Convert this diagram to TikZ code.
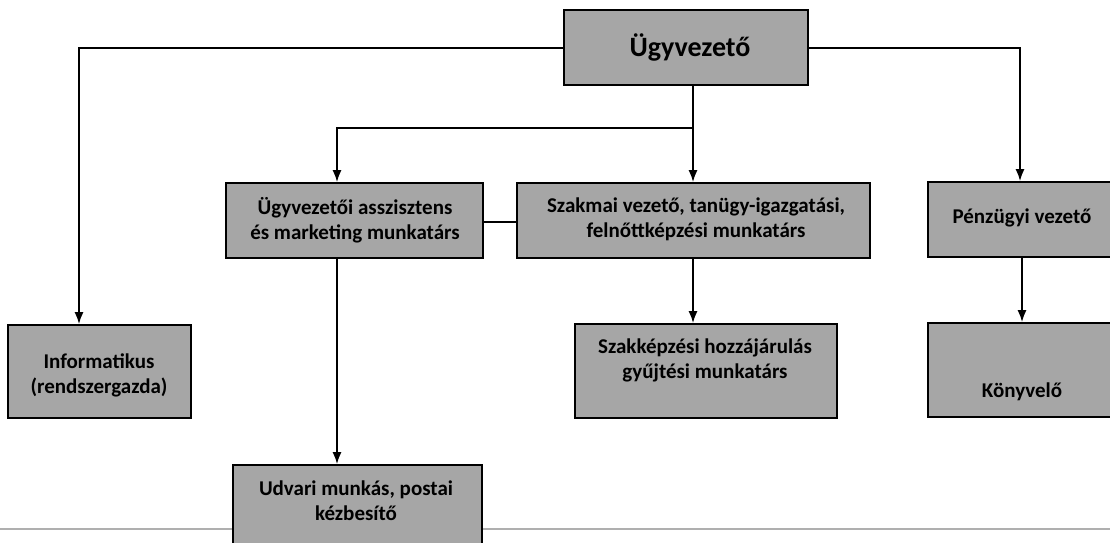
\documentclass[tikz,border=0pt]{standalone}
\usepackage{fontspec}
\setmainfont{Carlito}
\usetikzlibrary{arrows.meta}
\definecolor{boxgray}{RGB}{166,166,166}
\definecolor{scanline}{RGB}{175,175,175}
\tikzset{
  orgbox/.style={draw=black, line width=1.8pt, fill=boxgray, rectangle, inner sep=0pt},
  lbl/.style={font=\bfseries\fontsize{21}{25}\selectfont, align=center, inner sep=0pt, text=black},
  conn/.style={draw=black, line width=1.6pt},
  arr/.style={conn, -{Latex[length=12pt,width=9pt]}},
}
\begin{document}
\begin{tikzpicture}[x=1pt,y=-1pt]
\useasboundingbox (0,0) rectangle (1110,542);
% scan edge line
\coordinate (sl) at (0,529);
\coordinate (sr) at (1110,529);
\draw[scanline, line width=1.4pt] (sl) -- (sr);

% boxes
\node[orgbox, minimum width=244pt, minimum height=75pt] (ugy) at (686,47.5) {};
\node[orgbox, minimum width=257pt, minimum height=75pt] (asz) at (354.5,220.5) {};
\node[orgbox, minimum width=353pt, minimum height=75pt] (szak) at (693.5,220.5) {};
\node[orgbox, minimum width=188pt, minimum height=75pt] (penz) at (1022,219.5) {};
\node[orgbox, minimum width=188pt, minimum height=94pt] (konyv) at (1022,370) {};
\node[orgbox, minimum width=183pt, minimum height=93pt] (inf) at (99.5,371.5) {};
\node[orgbox, minimum width=262pt, minimum height=94pt] (szk) at (706,371) {};
\node[orgbox, minimum width=249pt, minimum height=95pt] (udv) at (357.5,512.5) {};

% texts
\node[lbl, font=\bfseries\fontsize{28}{30}\selectfont] (tugy) at (690,47) {Ügyvezető};
\node[lbl] (tasz) at (355,220) {Ügyvezetői asszisztens\\és marketing munkatárs};
\node[lbl] (tszak) at (696,219.5) {Szakmai vezető, tanügy-igazgatási,\\felnőttképzési munkatárs};
\node[lbl] (tpenz) at (1022,218) {Pénzügyi vezető};
\node[lbl] (tkonyv) at (1022,392) {Könyvelő};
\node[lbl] (tinf) at (99,375) {Informatikus\\(rendszergazda)};
\node[lbl] (tszk) at (705,360) {Szakképzési hozzájárulás\\gyűjtési munkatárs};
\node[lbl] (tudv) at (356,501) {Udvari munkás, postai\\kézbesítő};

% connectors
\coordinate (br) at (693,128);
\draw[arr] (ugy.west |- 0,48) -| (inf.north -| 79,0);
\draw[arr] (ugy.east |- 0,48) -| (penz.north -| 1020,0);
\draw[arr] (ugy.south -| br) -- (szak.north -| br);
\draw[arr] (br) -| (asz.north -| 337,0);
\draw[conn] (asz.east |- 0,222) -- (szak.west |- 0,222);
\draw[arr] (szak.south -| 693,0) -- (szk.north -| 693,0);
\draw[arr] (asz.south -| 337,0) -- (udv.north -| 337,0);
\draw[arr] (penz.south -| 1022,0) -- (konyv.north -| 1022,0);
\end{tikzpicture}
\end{document}
